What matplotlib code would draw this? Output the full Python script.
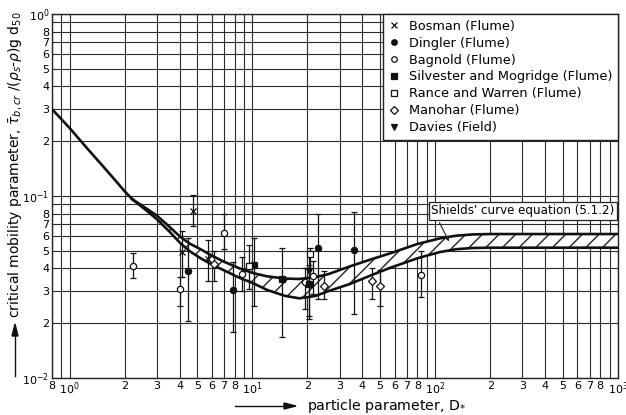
import numpy as np
import matplotlib
matplotlib.use("Agg")
import matplotlib.pyplot as plt
from matplotlib.lines import Line2D

# --- Shields curve ---
d_single = [0.8, 1.0, 1.25, 1.5, 1.75, 2.0, 2.2]
theta_single = [0.300, 0.236, 0.182, 0.148, 0.124, 0.106, 0.096]

d_band = [2.2, 2.6, 3.0, 3.5, 4.0, 4.5, 5.2, 6.0, 7.0, 8.5, 10, 12, 15, 18, 22,
          26, 34, 45, 57, 80, 106, 130, 160, 200, 1000]
theta_upper = [0.096, 0.086, 0.078, 0.068, 0.060, 0.055, 0.051, 0.047, 0.0435,
               0.040, 0.0378, 0.0362, 0.0352, 0.0350, 0.0358, 0.0372, 0.041,
               0.045, 0.0485, 0.0545, 0.0585, 0.0605, 0.0615, 0.0618, 0.0618]
theta_lower = [0.096, 0.084, 0.0745, 0.064, 0.0555, 0.050, 0.0455, 0.042, 0.039,
               0.0355, 0.0333, 0.0305, 0.0283, 0.0274, 0.0282, 0.0300, 0.0328,
               0.0368, 0.0404, 0.0455, 0.0492, 0.0510, 0.0518, 0.052, 0.052]

# --- measurements: D*, theta, lower end of bar, upper end of bar ---
bosman_d = [4.13, 4.74, 5.7]
bosman_t = [0.049, 0.083, 0.045]
bosman_lo = [0.0359, 0.0686, 0.034]
bosman_hi = [0.0645, 0.101, 0.057]

dingler_d = [4.43, 7.8, 22.9, 36.1]
dingler_t = [0.0387, 0.0305, 0.0515, 0.0505]
dingler_lo = [0.0206, 0.018, 0.027, 0.0225]
dingler_hi = [0.059, 0.0435, 0.080, 0.0813]

bagnold_d = [2.22, 4.0, 6.97, 8.77, 19.5, 21.4, 83.5]
bagnold_t = [0.0414, 0.0308, 0.063, 0.0373, 0.0337, 0.0365, 0.037]
bagnold_lo = [0.0355, 0.025, 0.051, 0.030, 0.024, 0.029, 0.028]
bagnold_hi = [0.0485, 0.036, 0.080, 0.046, 0.040, 0.044, 0.050]

silvester_d = [10.25, 14.6, 20.3]
silvester_t = [0.0418, 0.035, 0.0329]
silvester_lo = [0.025, 0.0168, 0.022]
silvester_hi = [0.0586, 0.052, 0.042]

rance_d = [9.55, 20.7]
rance_t = [0.0411, 0.048]
rance_lo = [0.031, 0.040]
rance_hi = [0.054, 0.052]

manohar_d = [6.15, 24.7, 45.1, 49.7]
manohar_t = [0.0423, 0.0319, 0.0343, 0.0319]
manohar_lo = [0.034, 0.0271, 0.027, 0.025]
manohar_hi = [0.050, 0.0387, 0.040, 0.039]

davies_d = [20.5]
davies_t = [0.0385]
davies_lo = [0.021]
davies_hi = [0.050]

x_ticks = [0.8, 1, 2, 3, 4, 5, 6, 7, 8, 10, 20, 30, 40, 50, 60, 70, 80,
           100, 200, 300, 400, 500, 600, 700, 800, 1000]
x_labels = ['8', r'$10^0$', '2', '3', '4', '5', '6', '7', '8', r'$10^1$',
            '2', '3', '4', '5', '6', '7', '8', r'$10^2$',
            '2', '3', '4', '5', '6', '7', '8', r'$10^3$']
y_ticks = [0.01, 0.02, 0.03, 0.04, 0.05, 0.06, 0.07, 0.08, 0.1,
           0.2, 0.3, 0.4, 0.5, 0.6, 0.7, 0.8, 1.0]
y_labels = [r'$10^{-2}$', '2', '3', '4', '5', '6', '7', '8', r'$10^{-1}$',
            '2', '3', '4', '5', '6', '7', '8', r'$10^0$']

fig = plt.figure(figsize=(6.26, 4.15), dpi=100)
ax = fig.add_axes([0.0831, 0.0892, 0.904, 0.877])
ax.set_xscale('log')
ax.set_yscale('log')
ax.set_xlim(0.8, 1000)
ax.set_ylim(0.01, 1.0)

ax.set_xticks(x_ticks, x_labels)
ax.set_xticks([0.9, 9, 90, 900], minor=True)
ax.set_yticks(y_ticks, y_labels)
ax.set_yticks([0.09, 0.9], minor=True)
ax.tick_params(which='both', length=0, labelsize=8)
ax.tick_params(axis='x', pad=2)
ax.tick_params(axis='y', pad=2)
ax.xaxis.set_minor_formatter(plt.NullFormatter())
ax.yaxis.set_minor_formatter(plt.NullFormatter())
ax.grid(which='both', color='#2a2a2a', linewidth=0.8)
ax.set_axisbelow(True)
for s in ax.spines.values():
    s.set_linewidth(1.0)
    s.set_color('#222222')

# band and curves
ax.fill_between(d_band, theta_lower, theta_upper, facecolor='white',
                edgecolor='#222222', hatch='//', linewidth=0, zorder=2)
ax.plot(d_single, theta_single, color='#111111', lw=1.9, zorder=3)
ax.plot(d_band, theta_upper, color='#111111', lw=1.9, zorder=3)
ax.plot(d_band, theta_lower, color='#111111', lw=1.9, zorder=3)

series = [
    (bosman_d, bosman_t, bosman_lo, bosman_hi, 'x', '#111111', 'Bosman (Flume)'),
    (dingler_d, dingler_t, dingler_lo, dingler_hi, 'o', '#111111', 'Dingler (Flume)'),
    (bagnold_d, bagnold_t, bagnold_lo, bagnold_hi, 'o', 'white', 'Bagnold (Flume)'),
    (silvester_d, silvester_t, silvester_lo, silvester_hi, 's', '#111111',
     'Silvester and Mogridge (Flume)'),
    (rance_d, rance_t, rance_lo, rance_hi, 's', 'white', 'Rance and Warren (Flume)'),
    (manohar_d, manohar_t, manohar_lo, manohar_hi, 'D', 'white', 'Manohar (Flume)'),
    (davies_d, davies_t, davies_lo, davies_hi, 'v', '#111111', 'Davies (Field)'),
]

handles = []
for d, t, lo, hi, mk, fc, name in series:
    t = np.array(t)
    yerr = [t - np.array(lo), np.array(hi) - t]
    ms = 4.5 if mk != 'D' else 4.0
    ax.errorbar(d, t, yerr=yerr, fmt=mk, ms=ms, mfc=fc, mec='#111111', mew=0.9,
                ecolor='#111111', elinewidth=0.9, capsize=2.5, capthick=0.9,
                zorder=4)
    handles.append(Line2D([], [], ls='none', marker=mk, ms=4, mfc=fc,
                          mec='#111111', mew=0.9, label=name))

leg = ax.legend(handles=handles, loc='upper right', borderaxespad=0,
                fontsize=9.3, handlelength=0.8, handletextpad=0.7,
                labelspacing=0.3, borderpad=0.45, fancybox=False,
                framealpha=1, edgecolor='#222222')
leg.get_frame().set_linewidth(1.0)

ax.annotate("Shields' curve equation (5.1.2)", xy=(121, 0.0545),
            xycoords='data', xytext=(0.994, 0.459), textcoords='axes fraction',
            ha='right', va='center', fontsize=8.6,
            bbox=dict(boxstyle='square,pad=0.2', fc='white', ec='#222222', lw=0.9),
            arrowprops=dict(arrowstyle='-|>', color='#222222', lw=0.8,
                            mutation_scale=7, relpos=(0.03, 0.0)),
            zorder=6)

# axis labels with arrows
fig.text(307 / 626, 1 - 406 / 415, r'particle parameter, D$_{*}$',
         fontsize=10.2, ha='left', va='center')
fig.add_artist(plt.Line2D([235 / 626, 288 / 626], [1 - 406 / 415] * 2,
                          color='#111111', lw=1.0))
fig.patches.append(plt.Polygon([[296 / 626, 1 - 406 / 415],
                                [284 / 626, 1 - 403 / 415],
                                [284 / 626, 1 - 409 / 415]],
                               closed=True, transform=fig.transFigure,
                               color='#111111'))

fig.text(15 / 626, 1 - 318 / 415,
         r'critical mobility parameter, $\bar{\tau}_{b,cr}$ /($\rho_s$-$\rho$)g d$_{50}$',
         fontsize=10, rotation=90, ha='center', va='bottom')
fig.add_artist(plt.Line2D([15 / 626] * 2, [1 - 376 / 415, 1 - 332 / 415],
                          color='#111111', lw=1.0))
fig.patches.append(plt.Polygon([[15 / 626, 1 - 324 / 415],
                                [12 / 626, 1 - 336 / 415],
                                [18 / 626, 1 - 336 / 415]],
                               closed=True, transform=fig.transFigure,
                               color='#111111'))

fig.savefig('out.png', dpi=100)
